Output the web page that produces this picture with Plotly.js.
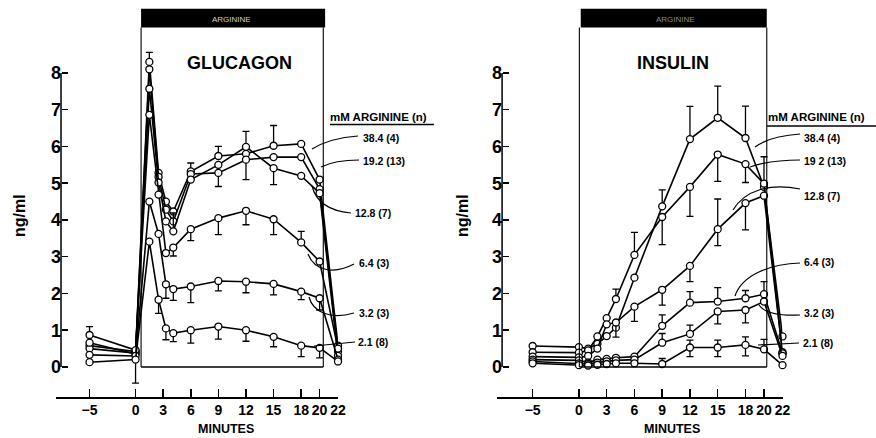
<!DOCTYPE html>
<html><head><meta charset="utf-8">
<script src="https://cdn.plot.ly/plotly-3.0.1.min.js"></script>
<style>html,body{margin:0;padding:0;background:#fff}#chart{width:876px;height:438px}</style>
</head><body><div id="chart"></div>
<script>
// ---------- DATA ----------
const doseLabelsGlucagon = ['38.4 (4)', '19.2 (13)', '12.8 (7)', '6.4 (3)', '3.2 (3)', '2.1 (8)'];
const doseLabelsInsulin  = ['38.4 (4)', '19 2 (13)', '12.8 (7)', '6.4 (3)', '3.2 (3)', '2.1 (8)'];
const xTickVals = [-5, 0, 3, 6, 9, 12, 15, 18, 20, 22];
const yTickVals = [0, 1, 2, 3, 4, 5, 6, 7, 8];

// Glucagon (ng/ml)
const glucagonTimes = [-5, 0, 1.5, 2.5, 3.3, 4.1, 6, 9, 12, 15, 18, 20, 22];
const glu384 = [0.58, 0.42, 8.30, 5.28, 4.50, 4.23, 5.32, 5.74, 5.80, 6.02, 6.07, 5.10, 0.58];
const glu192 = [0.50, 0.38, 8.10, 5.17, 4.28, 3.96, 5.25, 5.28, 5.64, 5.71, 5.71, 4.84, 0.42];
const glu128 = [0.66, 0.35, 7.57, 5.02, 3.96, 3.69, 5.10, 5.50, 5.99, 5.41, 5.20, 4.73, 0.30];
const glu64  = [0.87, 0.46, 6.86, 4.69, 3.10, 3.25, 3.75, 4.05, 4.25, 4.02, 3.39, 2.87, 0.50];
const glu32  = [0.33, 0.30, 4.50, 3.62, 2.25, 2.12, 2.19, 2.34, 2.32, 2.26, 2.05, 1.87, 0.20];
const glu21  = [0.13, 0.20, 3.41, 1.83, 1.05, 0.92, 1.00, 1.10, 1.00, 0.82, 0.58, 0.52, 0.15];
// SEM drawn upward / downward
const gluUp384 = [0, 0, 0.26, 0, 0, 0, 0.23, 0.26, 0, 0.55, 0, 0, 0];
const gluDn384 = [0, 0, 0, 0, 0, 0, 0, 0, 0, 0, 0, 0, 0];
const gluUp192 = [0, 0, 0, 0, 0, 0, 0, 0, 0, 0, 0, 0, 0];
const gluDn192 = [0, 0, 0, 0, 0, 0, 0, 0.37, 0.54, 0, 0, 0, 0];
const gluUp128 = [0, 0, 0, 0, 0, 0.50, 0, 0, 0.42, 0, 0, 0, 0];
const gluDn128 = [0, 0, 0, 0, 0, 0, 0, 0, 0, 0.45, 0, 0, 0];
const gluUp64  = [0.23, 0, 0, 0, 0, 0, 0, 0, 0, 0, 0.30, 0, 0];
const gluDn64  = [0, 0, 0, 0, 0, 0.23, 0.31, 0.45, 0.38, 0.42, 0, 0, 0];
const gluUp32  = [0, 0, 0, 0, 0, 0, 0, 0, 0, 0, 0, 0, 0];
const gluDn32  = [0, 0, 0, 0, 0.38, 0.31, 0.44, 0.27, 0.30, 0.30, 0.22, 0.32, 0];
const gluUp21  = [0, 0, 0, 0, 0, 0, 0, 0, 0, 0, 0, 0, 0];
const gluDn21  = [0, 0.64, 0, 0.37, 0.31, 0.23, 0.35, 0.34, 0.30, 0.27, 0.30, 0.27, 0];

// Insulin (ng/ml)
const insulinTimes = [-5, 0, 1, 2, 3, 4, 6, 9, 12, 15, 18, 20, 22];
const ins384 = [0.57, 0.54, 0.50, 0.63, 0.84, 1.07, 2.43, 4.37, 6.20, 6.78, 6.23, 4.90, 0.83];
const ins192 = [0.40, 0.39, 0.45, 0.83, 1.33, 1.85, 3.05, 4.08, 4.90, 5.78, 5.52, 4.99, 0.37];
const ins128 = [0.28, 0.26, 0.30, 0.50, 1.16, 1.21, 1.64, 2.10, 2.75, 3.75, 4.46, 4.66, 0.40];
const ins64  = [0.20, 0.18, 0.12, 0.20, 0.22, 0.25, 0.28, 1.12, 1.75, 1.78, 1.87, 1.98, 0.37];
const ins32  = [0.15, 0.10, 0.08, 0.12, 0.15, 0.18, 0.20, 0.66, 0.90, 1.51, 1.55, 1.78, 0.30];
const ins21  = [0.10, 0.05, 0.04, 0.06, 0.08, 0.10, 0.10, 0.08, 0.53, 0.53, 0.60, 0.48, 0.05];
const insUp384 = [0, 0, 0, 0, 0, 0, 0, 0.45, 0.89, 0.86, 0.87, 0, 0];
const insDn384 = [0, 0, 0, 0, 0, 0, 0, 0, 0, 0, 0, 0, 0];
const insUp192 = [0, 0, 0, 0, 0, 0.27, 0.61, 0, 0, 0, 0, 0.73, 0];
const insDn192 = [0, 0, 0, 0, 0, 0, 0, 0.75, 0.80, 0.73, 0.50, 0, 0];
const insUp128 = [0, 0, 0, 0, 0, 0, 0, 0, 0, 0.82, 0, 0, 0];
const insDn128 = [0, 0, 0, 0, 0, 0.40, 0.40, 0.42, 0.43, 0.45, 0.73, 0, 0];
const insUp64  = [0, 0, 0, 0, 0, 0, 0, 0.30, 0.30, 0.38, 0.21, 0.34, 0];
const insDn64  = [0, 0, 0, 0, 0, 0, 0, 0, 0, 0, 0, 0, 0];
const insUp32  = [0, 0, 0, 0, 0, 0, 0, 0.25, 0.24, 0, 0, 0, 0];
const insDn32  = [0, 0, 0, 0, 0, 0, 0, 0, 0, 0.34, 0.35, 0, 0];
const insUp21  = [0, 0, 0, 0, 0, 0, 0, 0.15, 0.20, 0.20, 0.22, 0.27, 0];
const insDn21  = [0, 0, 0, 0, 0, 0, 0, 0, 0.25, 0.25, 0.30, 0, 0];

// ---------- BUILD ----------
const W = 876, H = 438;
const px = v => v / W;          // pixel -> paper x
const py = v => 1 - v / H;      // pixel -> paper y
const FONT = 'Liberation Sans, Arial, sans-serif';

function series(x, y, up, dn, xa, ya, name) {
  return {
    type: 'scatter', mode: 'lines+markers', name: name, x: x, y: y,
    xaxis: xa, yaxis: ya, cliponaxis: false, showlegend: false, hoverinfo: 'skip',
    line: {color: '#000', width: 1.6},
    marker: {symbol: 'circle', size: 7, color: '#fff', line: {color: '#000', width: 1.3}},
    error_y: {type: 'data', symmetric: false, array: up, arrayminus: dn,
              color: '#000', thickness: 1.3, width: 3.5}
  };
}

const gluSeries = [[glu384, gluUp384, gluDn384], [glu192, gluUp192, gluDn192], [glu128, gluUp128, gluDn128],
                   [glu64, gluUp64, gluDn64], [glu32, gluUp32, gluDn32], [glu21, gluUp21, gluDn21]];
const insSeries = [[ins384, insUp384, insDn384], [ins192, insUp192, insDn192], [ins128, insUp128, insDn128],
                   [ins64, insUp64, insDn64], [ins32, insUp32, insDn32], [ins21, insUp21, insDn21]];

const traces = [];
gluSeries.forEach((s, i) => traces.push(series(glucagonTimes, s[0], s[1], s[2], 'x', 'y', 'Glucagon ' + doseLabelsGlucagon[i])));
insSeries.forEach((s, i) => traces.push(series(insulinTimes, s[0], s[1], s[2], 'x2', 'y2', 'Insulin ' + doseLabelsInsulin[i])));

// axis geometry (pixels)
const yDomain = [py(397.1), py(1.3)];
const yRange = [-0.82, 9.95];

function xAxis(domain, range) {
  return {
    domain: domain, range: range, showgrid: false, zeroline: false,
    showline: true, linecolor: '#000', linewidth: 1.5,
    ticks: 'inside', ticklen: 8, tickwidth: 1.5, tickcolor: '#000',
    tickmode: 'array', tickvals: xTickVals, tickangle: 0,
    tickfont: {family: FONT, size: 14, color: '#000', weight: 'bold'}
  };
}
function yAxis(anchorPx) {
  return {
    domain: yDomain, range: yRange, anchor: 'free', position: px(anchorPx),
    showgrid: false, zeroline: false, showline: false,
    ticks: 'inside', ticklen: 6, tickwidth: 1.5, tickcolor: '#000',
    tickmode: 'array', tickvals: yTickVals, tickangle: 0,
    tickfont: {family: FONT, size: 18, color: '#000', weight: 'bold'}
  };
}

const shapes = [];
const annotations = [];
function line(xref, yref, x0, y0, x1, y1, w, dash) {
  shapes.push({type: 'line', xref: xref, yref: yref, x0: x0, y0: y0, x1: x1, y1: y1,
               line: {color: '#000', width: w || 1.2, dash: dash || 'solid'}});
}
function path(points, w) {
  let d = 'M' + px(points[0][0]) + ',' + py(points[0][1]);
  if (points.length === 2) d += ' L' + px(points[1][0]) + ',' + py(points[1][1]);
  else if (points.length === 3) d += ' Q' + points.slice(1).map(p => px(p[0]) + ',' + py(p[1])).join(' ');
  else d += ' C' + points.slice(1).map(p => px(p[0]) + ',' + py(p[1])).join(' ');
  shapes.push({type: 'path', xref: 'paper', yref: 'paper', path: d, line: {color: '#000', width: w || 1.2}});
}
function text(t, x, y, size, opts) {
  annotations.push(Object.assign({text: t, xref: 'paper', yref: 'paper', x: px(x), y: py(y),
    showarrow: false, xanchor: 'left', yanchor: 'middle',
    font: {family: FONT, size: size, color: '#000', weight: 'bold'}}, opts || {}));
}

// panel decorations: y axis lines (0..8), infusion box and black bar
function panelDeco(xa, ya, yAxisX, barX0, barX1, boxL, boxR) {
  line(xa, ya, yAxisX, 0, yAxisX, 8, 1.5);
  shapes.push({type: 'rect', xref: xa, yref: ya, x0: barX0, x1: barX1, y0: 9.24, y1: 9.75,
               fillcolor: '#000', line: {width: 0}});
  line(xa, ya, boxL, 0, boxL, 9.24, 1.1);
  line(xa, ya, boxR, 0, boxR, 9.24, 1.1);
  line(xa, ya, boxL, 0, boxR, 0, 1.5);
}
panelDeco('x', 'y', -8.1, 0.6, 20.6, 0.6, 20.4);
panelDeco('x2', 'y2', -8.3, 0.2, 20.3, 0.05, 20.3);

// titles
text('GLUCAGON', 239, 63, 18, {xanchor: 'center'});
text('INSULIN', 673, 63, 18, {xanchor: 'center'});
text('ARGININE', 231, 19, 8, {xanchor: 'center', font: {family: FONT, size: 8, color: '#cfcfcf'}});
text('ARGININE', 675, 19, 8, {xanchor: 'center', font: {family: FONT, size: 8, color: '#8a8a8a'}});
text('ng/ml', 19, 216, 16, {xanchor: 'center', textangle: -90});
text('ng/ml', 462, 216, 16, {xanchor: 'center', textangle: -90});
text('MINUTES', 226, 429, 12.5, {xanchor: 'center'});
text('MINUTES', 672, 429, 12.5, {xanchor: 'center'});

// legend headers
text('mM ARGININE (n)', 328, 117, 11.5);
text('mM ARGININE (n)', 766, 117, 11.5);
line('paper', 'paper', px(330), py(124.5), px(434), py(124.5), 1.6);
line('paper', 'paper', px(767), py(126), px(876), py(126), 1.6);

// dose labels
const gluLabelPos = [[361, 138], [361, 161], [353, 213], [357, 263], [357, 313], [356, 342]];
const insLabelPos = [[802, 138], [802, 161], [802, 196], [802, 262], [802, 313], [801, 343]];
doseLabelsGlucagon.forEach((t, i) => text(t, gluLabelPos[i][0], gluLabelPos[i][1], 10.5));
doseLabelsInsulin.forEach((t, i) => text(t, insLabelPos[i][0], insLabelPos[i][1], 10.5));

// leader lines (pixel geometry)
path([[358, 136], [330, 138], [312, 149]]);
path([[359, 160], [335, 160], [321, 167]]);
path([[351, 213], [318, 210], [312, 186]]);
path([[354, 264], [335, 274], [315, 272], [308, 254]]);
path([[354, 313], [330, 320], [313, 312], [309, 297]]);
path([[355, 342], [314, 346]]);
path([[800, 134], [770, 136], [755, 147]]);
path([[800, 160], [770, 160], [750, 167]]);
path([[800, 189], [770, 183], [745, 190], [733, 210]]);
path([[800, 263], [770, 264], [742, 275], [735, 296]]);
path([[800, 315], [780, 316], [765, 314], [759, 305]]);
path([[799, 343], [758, 345]]);

const layout = {
  width: W, height: H, margin: {l: 0, r: 0, t: 0, b: 0},
  paper_bgcolor: '#fff', plot_bgcolor: 'rgba(0,0,0,0)',
  font: {family: FONT, color: '#000'},
  showlegend: false,
  xaxis: Object.assign(xAxis([px(55.5), px(338)], [-8.7, 22]), {anchor: 'y'}),
  yaxis: yAxis(61),
  xaxis2: Object.assign(xAxis([px(497), px(782.5)], [-8.85, 22]), {anchor: 'y2'}),
  yaxis2: yAxis(502),
  shapes: shapes,
  annotations: annotations
};

Plotly.newPlot('chart', traces, layout, {staticPlot: true, displayModeBar: false});
</script>
</body></html>
